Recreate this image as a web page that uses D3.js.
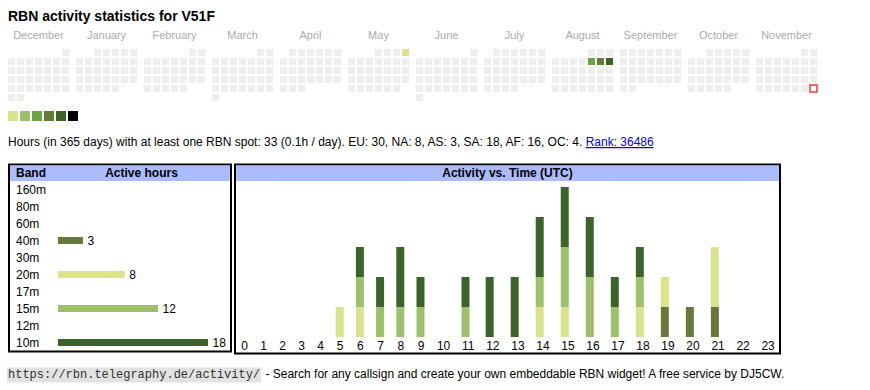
<!DOCTYPE html>
<html><head><meta charset="utf-8">
<script src="https://cdn.jsdelivr.net/npm/d3@7"></script>
<style>
html,body{margin:0;padding:0;background:#fff;}
svg{display:block;font-family:"Liberation Sans",Arial,sans-serif;}
</style></head>
<body>
<svg id="c" width="870" height="390"></svg>
<script>
// ---------------- data ----------------
const title = "RBN activity statistics for V51F";
const monthNames = ["December","January","February","March","April","May","June","July","August","September","October","November"];
const startDate = "2024-12-01";
const endDate = "2025-12-01"; // exclusive
const todayDate = "2025-11-30";
const activeDays = ["2025-05-04","2025-08-08","2025-08-09","2025-08-10"];
const activeLevels = [1,3,4,5];
const levelColors = ["#eeeeee","#dae38b","#9dc06b","#6aa444","#677a3a","#3c6428","#000000"];
const infoText = "Hours (in 365 days) with at least one RBN spot: 33 (0.1h / day). EU: 30, NA: 8, AS: 3, SA: 18, AF: 16, OC: 4. ";
const rankText = "Rank: 36486";
const bands = ["160m","80m","60m","40m","30m","20m","17m","15m","12m","10m"];
const bandHours = [0,0,0,3,0,8,0,12,0,18];
const bandColors = ["#8a6d3b","#a05a2c","#b07030","#677a3a","#8fa050","#dae38b","#c0d070","#9dc06b","#5a8a3a","#3c6428"];
const hours = d3.range(24);
const hours40m = [0,0,0,0,0,0,0,0,0,0,0,0,0,0,0,0,0,0,0,1,1,1,0,0];
const hours20m = [0,0,0,0,0,1,1,0,0,0,0,0,0,0,1,1,0,0,1,1,0,2,0,0];
const hours15m = [0,0,0,0,0,0,1,1,1,1,0,1,0,0,1,2,2,1,1,0,0,0,0,0];
const hours10m = [0,0,0,0,0,0,1,1,2,1,0,1,2,2,2,2,2,1,1,0,0,0,0,0];
const footerUrl = "https://rbn.telegraphy.de/activity/";
const footerText = " - Search for any callsign and create your own embeddable RBN widget! A free service by DJ5CW.";

// ---------------- drawing ----------------
const svg = d3.select("#c");
const font = '"Liberation Sans",Arial,sans-serif';

svg.append("text").attr("x", 8).attr("y", 21)
  .attr("font-size", 14).attr("font-weight", "bold").attr("fill", "#000").text(title);

// calendar
const parse = d3.utcParse("%Y-%m-%d");
const days = d3.utcDay.range(parse(startDate), parse(endDate));
const months = d3.utcMonth.range(parse(startDate), parse(endDate));
const monthX = d3.scaleLinear().domain([0, 1]).range([8, 76]);
const colX = d3.scaleLinear().domain([0, 1]).range([0, 9]);
const rowY = d3.scaleLinear().domain([0, 1]).range([49, 58]);
const cellSize = 7;
const levelByDay = new Map(activeDays.map((d, i) => [d, activeLevels[i]]));
const fmt = d3.utcFormat("%Y-%m-%d");
const mIndex = d => (d.getUTCFullYear() - 2024) * 12 + d.getUTCMonth() - 11;
const wd = d => (d.getUTCDay() + 6) % 7;

svg.append("g").selectAll("text").data(months).join("text")
  .attr("x", (d, i) => monthX(i) + colX(7) / 2 - 1)
  .attr("y", 39).attr("text-anchor", "middle")
  .attr("font-size", 11).attr("fill", "#aaaaaa")
  .text((d, i) => monthNames[i]);

svg.append("g").selectAll("rect").data(days).join("rect")
  .attr("x", d => monthX(mIndex(d)) + colX(wd(d)))
  .attr("y", d => {
    const first = d3.utcMonth.floor(d);
    return rowY(Math.floor((d.getUTCDate() - 1 + wd(first)) / 7));
  })
  .attr("width", cellSize).attr("height", cellSize)
  .attr("fill", d => fmt(d) === todayDate ? "#ffffff" : levelColors[levelByDay.get(fmt(d)) || 0])
  .attr("stroke", d => fmt(d) === todayDate ? "#ff0000" : "none")
  .attr("stroke-width", 1.2);

// legend squares
const legX = d3.scaleLinear().domain([1, 2]).range([8, 20]);
svg.append("g").selectAll("rect").data(levelColors.slice(1)).join("rect")
  .attr("x", (d, i) => legX(i + 1)).attr("y", 111)
  .attr("width", 10).attr("height", 10).attr("fill", d => d);

// info line
const info = svg.append("text").attr("x", 8).attr("y", 146).attr("font-size", 12).attr("fill", "#000");
info.append("tspan").text(infoText);
info.append("tspan").attr("fill", "#0000ee").attr("text-decoration", "underline").text(rankText);

// ---------- band table ----------
svg.append("rect").attr("x", 9).attr("y", 164.5).attr("width", 222).attr("height", 187)
  .attr("fill", "#fff").attr("stroke", "#000").attr("stroke-width", 2);
svg.append("rect").attr("x", 10).attr("y", 165.5).attr("width", 220).attr("height", 15.5).attr("fill", "#aabbff");
svg.append("text").attr("x", 16).attr("y", 177).attr("font-size", 12).attr("font-weight", "bold").text("Band");
svg.append("text").attr("x", 141.5).attr("y", 177).attr("text-anchor", "middle")
  .attr("font-size", 12).attr("font-weight", "bold").text("Active hours");

const rowScale = d3.scalePoint().domain(bands).range([189.3, 342.3]);
const hScale = d3.scaleLinear().domain([0, d3.max(bandHours)]).range([0, 150]);
const bg = svg.append("g");
bands.forEach((b, i) => {
  const cy = rowScale(b);
  bg.append("text").attr("x", 16).attr("y", cy + 4.3).attr("font-size", 12).text(b);
  if (bandHours[i] > 0) {
    bg.append("rect").attr("x", 58).attr("y", cy - 3.3).attr("width", hScale(bandHours[i])).attr("height", 7)
      .attr("fill", bandColors[i]);
    bg.append("text").attr("x", 58 + hScale(bandHours[i]) + 4.5).attr("y", cy + 4.3).attr("font-size", 12).text(bandHours[i]);
  }
});

// ---------- activity vs time ----------
svg.append("rect").attr("x", 235).attr("y", 164.5).attr("width", 545).attr("height", 189)
  .attr("fill", "#fff").attr("stroke", "#000").attr("stroke-width", 2);
svg.append("rect").attr("x", 236).attr("y", 165.5).attr("width", 543).attr("height", 15.5).attr("fill", "#aabbff");
svg.append("text").attr("x", 507.5).attr("y", 177).attr("text-anchor", "middle")
  .attr("font-size", 12).attr("font-weight", "bold").text("Activity vs. Time (UTC)");

const series = {"40m": hours40m, "20m": hours20m, "15m": hours15m, "10m": hours10m};
const keys = bands.filter(b => series[b]);
const table = hours.map(h => {
  const o = {hour: h};
  keys.forEach(k => o[k] = series[k][h]);
  return o;
});
const stacked = d3.stack().keys(keys)(table);
const totals = table.map(r => d3.sum(keys, k => r[k]));

// column widths like an auto-layout HTML table, driven by cell content (bar or label)
const barW = 8;
const meas = svg.append("text").attr("font-size", 12).attr("visibility", "hidden");
const contentW = hours.map(h => {
  meas.text(String(h));
  const tw = meas.node().getComputedTextLength();
  return Math.max(totals[h] > 0 ? barW : 0, tw);
});
meas.remove();
const colW = contentW.map(c => 13 + 0.9 * c);
const x0 = 234.5;
const centers = [];
let acc = x0;
colW.forEach(w => { centers.push(acc + w / 2); acc += w; });
const xScale = d3.scaleOrdinal().domain(hours).range(centers);
const yScale = d3.scaleLinear().domain([0, d3.max(totals)]).range([337, 187]);

svg.append("g").selectAll("g").data(stacked).join("g")
  .attr("fill", d => bandColors[bands.indexOf(d.key)])
  .selectAll("rect").data(d => d.filter(p => p[1] > p[0])).join("rect")
  .attr("x", d => xScale(d.data.hour) - contentW[d.data.hour] / 2)
  .attr("y", d => yScale(d[1]))
  .attr("width", barW)
  .attr("height", d => yScale(d[0]) - yScale(d[1]));

const xAxis = d3.axisBottom(xScale).tickSize(0).tickPadding(0);
const ax = svg.append("g").attr("transform", "translate(0,341)").call(xAxis);
ax.select(".domain").remove();
ax.selectAll("text").attr("font-size", 12).attr("fill", "#000").attr("font-family", font).attr("dy", "0.71em");

// ---------- footer ----------
const fy = 378;
const urlT = svg.append("text").attr("x", 8).attr("y", fy).attr("font-size", 12)
  .attr("font-family", '"Liberation Mono","DejaVu Sans Mono",monospace').attr("fill", "#333").text(footerUrl);
const bb = urlT.node().getBBox();
svg.insert("rect", () => urlT.node()).attr("x", bb.x - 1).attr("y", bb.y - 0.5).attr("width", bb.width + 2).attr("height", bb.height + 1).attr("fill", "#e2e2e2");
svg.append("text").attr("x", 8 + bb.width + 2).attr("y", fy).attr("font-size", 12).attr("fill", "#000")
  .attr("xml:space", "preserve").style("white-space", "pre").text(footerText);
</script>
</body></html>
